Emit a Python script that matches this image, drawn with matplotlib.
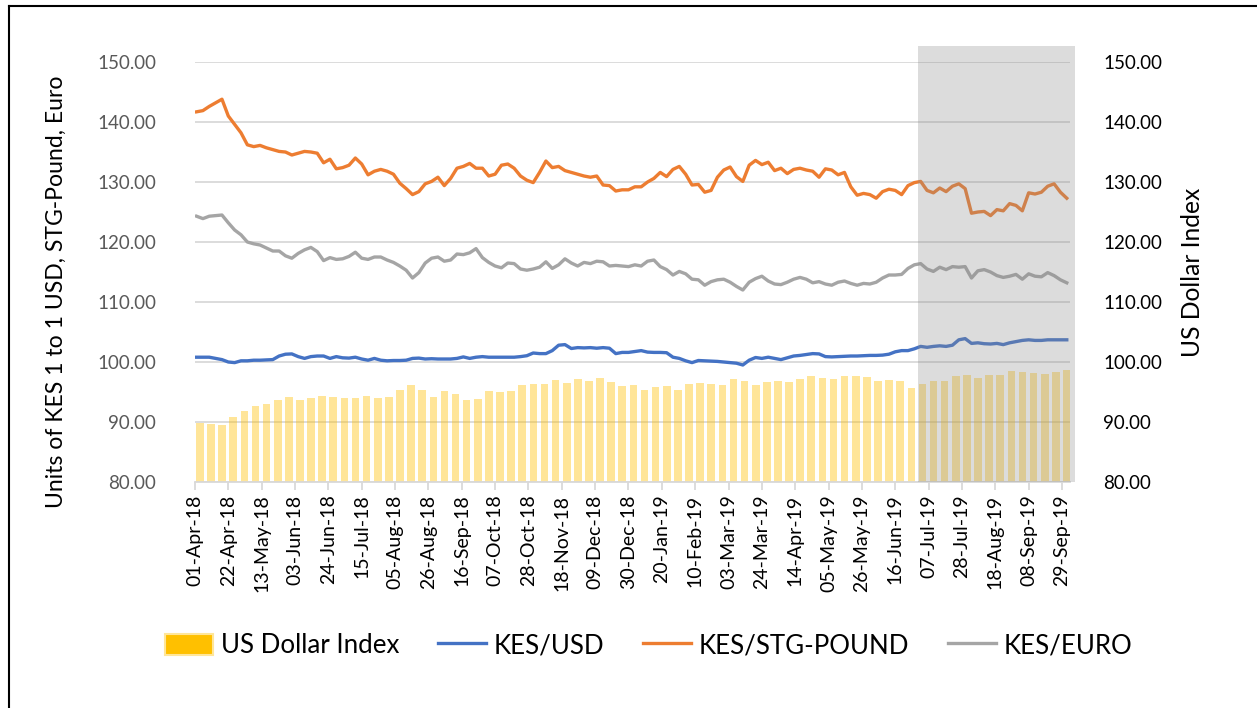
import numpy as np
import pandas as pd
import matplotlib
matplotlib.use("Agg")
import matplotlib.pyplot as plt
import matplotlib.dates as mdates
from matplotlib.patches import Rectangle, Patch
from matplotlib.lines import Line2D

plt.rcParams['font.family'] = ['Lato', 'DejaVu Sans']

# line series, one reading every 4 days from 02-Apr-18
line_start = "2018-04-02"
kes_gbp = [141.7, 141.9, 142.6, 143.2, 143.8, 141.0, 139.6, 138.2, 136.2, 135.9,
           136.1, 135.7, 135.4, 135.1, 135.0, 134.5, 134.8, 135.1, 135.0, 134.8,
           133.2, 133.8, 132.2, 132.4, 132.8, 134.0, 133.0, 131.2, 131.8, 132.1,
           131.8, 131.3, 129.8, 128.9, 127.9, 128.4, 129.7, 130.1, 130.8, 129.4,
           130.6, 132.3, 132.6, 133.1, 132.3, 132.3, 131.0, 131.3, 132.8, 133.0,
           132.3, 131.0, 130.3, 129.9, 131.6, 133.5, 132.4, 132.6, 131.9, 131.6,
           131.3, 131.0, 130.8, 131.0, 129.5, 129.4, 128.5, 128.7, 128.7, 129.2,
           129.2, 130.0, 130.6, 131.6, 130.9, 132.1, 132.6, 131.3, 129.5, 129.6,
           128.3, 128.6, 130.8, 132.0, 132.5, 130.9, 130.1, 132.8, 133.6, 132.9,
           133.3, 131.9, 132.3, 131.4, 132.1, 132.3, 132.0, 131.8, 130.8, 132.2,
           132.0, 131.2, 131.6, 129.2, 127.8, 128.1, 127.9, 127.3, 128.4, 128.8,
           128.6, 127.9, 129.4, 129.9, 130.1, 128.6, 128.2, 129.0, 128.4, 129.3,
           129.7, 128.9, 124.8, 125.0, 125.1, 124.4, 125.4, 125.2, 126.4, 126.1,
           125.2, 128.2, 128.0, 128.3, 129.3, 129.7, 128.3, 127.3]
kes_eur = [124.3, 123.9, 124.3, 124.4, 124.5, 123.2, 122.0, 121.2, 120.0, 119.7,
           119.5, 119.0, 118.5, 118.5, 117.7, 117.3, 118.1, 118.7, 119.1, 118.4,
           116.9, 117.4, 117.1, 117.2, 117.6, 118.3, 117.3, 117.1, 117.5, 117.5,
           117.0, 116.6, 116.0, 115.3, 114.0, 114.9, 116.5, 117.3, 117.5, 116.8,
           117.0, 118.0, 117.9, 118.2, 118.9, 117.4, 116.6, 116.0, 115.7, 116.5,
           116.4, 115.5, 115.3, 115.5, 115.8, 116.7, 115.6, 116.2, 117.2, 116.5,
           116.0, 116.6, 116.4, 116.8, 116.7, 116.0, 116.1, 116.0, 115.9, 116.2,
           116.0, 116.8, 117.0, 115.9, 115.4, 114.5, 115.1, 114.7, 113.8, 113.7,
           112.8, 113.4, 113.7, 113.8, 113.3, 112.6, 112.0, 113.3, 113.9, 114.3,
           113.5, 113.0, 112.9, 113.3, 113.8, 114.1, 113.8, 113.2, 113.4, 113.0,
           112.8, 113.3, 113.5, 113.1, 112.8, 113.1, 113.0, 113.3, 114.0, 114.5,
           114.5, 114.6, 115.6, 116.2, 116.4, 115.5, 115.1, 115.8, 115.4, 115.9,
           115.8, 115.9, 114.0, 115.2, 115.4, 115.0, 114.4, 114.1, 114.3, 114.6,
           113.8, 114.7, 114.3, 114.2, 114.9, 114.4, 113.7, 113.2]
kes_usd = [100.8, 100.8, 100.8, 100.6, 100.4, 100.0, 99.9, 100.2, 100.2, 100.3,
           100.3, 100.35, 100.4, 101.0, 101.3, 101.35, 100.9, 100.6, 100.9, 101.0,
           101.0, 100.6, 100.9, 100.7, 100.65, 100.8, 100.5, 100.3, 100.6, 100.3,
           100.2, 100.25, 100.25, 100.3, 100.6, 100.65, 100.5, 100.55, 100.5, 100.5,
           100.5, 100.6, 100.85, 100.6, 100.8, 100.9, 100.8, 100.8, 100.8, 100.8,
           100.8, 100.9, 101.05, 101.5, 101.4, 101.4, 101.9, 102.8, 102.9, 102.25,
           102.4, 102.35, 102.4, 102.3, 102.4, 102.3, 101.4, 101.6, 101.6, 101.75,
           101.9, 101.65, 101.6, 101.6, 101.55, 100.8, 100.6, 100.2, 99.9, 100.25,
           100.2, 100.15, 100.1, 100.0, 99.9, 99.8, 99.5, 100.3, 100.75, 100.6,
           100.8, 100.6, 100.4, 100.7, 101.0, 101.1, 101.25, 101.4, 101.35, 100.9,
           100.85, 100.9, 100.95, 101.0, 101.0, 101.05, 101.1, 101.1, 101.15, 101.3,
           101.7, 101.9, 101.9, 102.2, 102.6, 102.45, 102.6, 102.7, 102.6, 102.8,
           103.7, 103.9, 103.1, 103.2, 103.05, 103.0, 103.1, 102.9, 103.2, 103.4,
           103.6, 103.7, 103.6, 103.6, 103.7, 103.7, 103.7, 103.7]

# US dollar index, one value per trading week (Mon-Fri) from 02-Apr-18
week_start = "2018-04-02"
usd_index = [89.9, 89.6, 89.5, 90.9, 91.9, 92.7, 93.0, 93.7, 94.1, 93.6,
             94.0, 94.3, 94.2, 94.0, 94.0, 94.3, 94.0, 94.2, 95.3, 96.2,
             95.3, 94.2, 95.1, 94.7, 93.6, 93.8, 95.2, 95.0, 95.1, 96.2,
             96.4, 96.3, 97.0, 96.5, 97.1, 96.9, 97.3, 96.6, 96.0, 96.1,
             95.4, 95.8, 96.0, 95.4, 96.3, 96.5, 96.3, 96.2, 97.2, 96.9,
             96.1, 96.7, 96.9, 96.7, 97.1, 97.6, 97.4, 97.2, 97.6, 97.6,
             97.5, 96.8, 97.0, 96.8, 95.6, 96.3, 96.8, 96.9, 97.6, 97.9,
             97.3, 97.8, 97.8, 98.5, 98.3, 98.1, 98.0, 98.3, 98.6]

shade_from, shade_to = "2019-06-30", "2019-10-07"

line_dates = pd.date_range(line_start, periods=len(kes_usd), freq="4D")
week_dates = pd.date_range(week_start, periods=len(usd_index), freq="7D")
tick_dates = pd.date_range("2018-04-01", "2019-09-29", freq="21D")

fig = plt.figure(figsize=(12.57, 7.08), dpi=100)
ax2 = fig.add_axes([0.1551, 0.3192, 0.6961, 0.5932])
ax = ax2.twinx()
ax.set_zorder(ax2.get_zorder() + 1)
ax.patch.set_visible(False)
ax.yaxis.tick_left()
ax.yaxis.set_label_position("left")
ax2.yaxis.tick_right()
ax2.yaxis.set_label_position("right")

# bars span Monday to Friday of each week
ax2.bar(mdates.date2num(week_dates) - 0.3, np.array(usd_index) - 80, bottom=80,
        width=4.8, align="edge", color="#FFC000", alpha=0.4, linewidth=0)
ax2.yaxis.grid(True, color="#d9d9d9", linewidth=1.3)
ax2.set_axisbelow(True)

ax.plot(line_dates, kes_usd, color="#4472C4", lw=2.4)
ax.plot(line_dates, kes_gbp, color="#ED7D31", lw=2.4)
ax.plot(line_dates, kes_eur, color="#A5A5A5", lw=2.4)

x0 = mdates.datestr2num(shade_from)
x1 = mdates.datestr2num(shade_to)
ax.add_patch(Rectangle((x0, 0), x1 - x0, 1.038, transform=ax.get_xaxis_transform(),
                       facecolor="#8c8c8c", alpha=0.3, lw=0, clip_on=False, zorder=10))

xmin, xmax = mdates.datestr2num("2018-04-01"), mdates.datestr2num("2019-10-04")
for a in (ax, ax2):
    a.set_xlim(xmin, xmax)
    a.set_ylim(80, 150)
    a.set_yticks(np.arange(80, 151, 10))
    a.yaxis.set_major_formatter(matplotlib.ticker.FormatStrFormatter("%.2f"))
    for s in a.spines.values():
        s.set_visible(False)
ax2.spines["bottom"].set_visible(True)
ax2.spines["bottom"].set_color("#d9d9d9")
ax2.spines["bottom"].set_linewidth(1.3)

ax2.set_xticks(mdates.date2num(tick_dates))
ax2.xaxis.set_major_formatter(mdates.DateFormatter("%d-%b-%y"))
ax2.tick_params(axis="x", direction="out", length=6, color="#d9d9d9", width=1.3,
                labelsize=14, labelrotation=90, labelcolor="black", pad=3)
ax.tick_params(axis="x", bottom=False, labelbottom=False)
ax.tick_params(axis="y", length=0, labelsize=13.5, labelcolor="#595959", pad=28)
ax2.tick_params(axis="y", length=0, labelsize=13.5, labelcolor="black", pad=24)

ax.set_ylabel("Units of KES 1 to 1 USD, STG-Pound, Euro", fontsize=16.6)
ax.yaxis.set_label_coords(-0.146, 0.452)
ax2.set_ylabel("US Dollar Index", fontsize=17.7)
ax2.yaxis.set_label_coords(1.127, 0.5)

handles = [Patch(facecolor="#FFC000", edgecolor="#FFE699", linewidth=1.5),
           Line2D([], [], color="#4472C4", lw=2.4),
           Line2D([], [], color="#ED7D31", lw=2.4),
           Line2D([], [], color="#A5A5A5", lw=2.4)]
labels = ["US Dollar Index", "KES/USD", "KES/STG-POUND", "KES/EURO"]
fig.legend(handles, labels, loc="center", bbox_to_anchor=(0.516, 0.088), ncol=4,
           frameon=False, fontsize=18.6, handlelength=1.86, handleheight=0.9,
           handletextpad=0.3, columnspacing=1.5)

# outer chart border (left and top edges visible)
fig.add_artist(Line2D([0.0068, 0.0068], [0, 0.9915], transform=fig.transFigure,
                      color="black", lw=1.5))
fig.add_artist(Line2D([0.0068, 1], [0.9915, 0.9915], transform=fig.transFigure,
                      color="black", lw=1.5))

fig.savefig("out.png", dpi=100)
